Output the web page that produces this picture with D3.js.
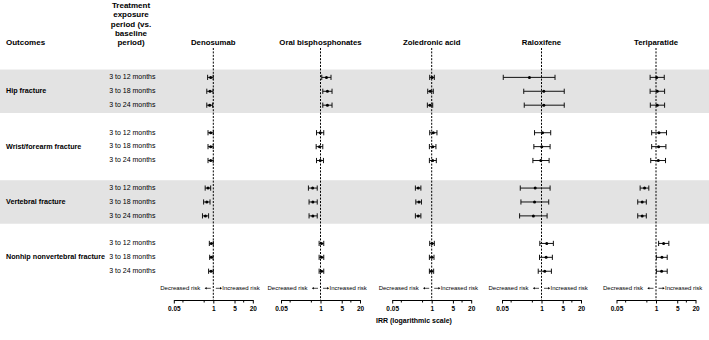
<!DOCTYPE html>
<html>
<head>
<meta charset="utf-8">
<script src="https://cdnjs.cloudflare.com/ajax/libs/d3/7.8.5/d3.min.js"></script>
<style>
body { margin:0; background:white; }
text { font-family: Arial, "Liberation Sans", sans-serif; fill:#000; }
</style>
</head>
<body>
<div id="canvas"></div>
<script>
var w = 709;
var h = 340;

// categories
var outcomes = ["Hip fracture", "Wrist/forearm fracture", "Vertebral fracture", "Nonhip nonvertebral fracture"];
var periods = ["3 to 12 months", "3 to 18 months", "3 to 24 months"];
var drugs = ["Denosumab", "Oral bisphosphonates", "Zoledronic acid", "Raloxifene", "Teriparatide"];
var tickLabels = [0.05, 1, 5, 20];
var minorTicks = [0.1, 0.5, 10];

// IRR, lower, upper (outcome x period order)
var denosumabIRR = [0.82, 0.78, 0.76, 0.82, 0.82, 0.82, 0.67, 0.61, 0.55, 0.86, 0.86, 0.84];
var denosumabLo  = [0.65, 0.61, 0.61, 0.67, 0.67, 0.67, 0.54, 0.48, 0.44, 0.74, 0.76, 0.70];
var denosumabHi  = [0.99, 0.98, 0.95, 1.00, 0.99, 0.99, 0.82, 0.78, 0.70, 1.00, 0.98, 1.00];

var oralIRR = [1.57, 1.69, 1.69, 0.98, 0.93, 0.98, 0.55, 0.56, 0.56, 1.08, 1.08, 1.08];
var oralLo  = [1.10, 1.19, 1.19, 0.74, 0.72, 0.74, 0.40, 0.42, 0.42, 0.90, 0.90, 0.90];
var oralHi  = [2.22, 2.40, 2.40, 1.28, 1.19, 1.25, 0.78, 0.78, 0.78, 1.28, 1.28, 1.28];

var zolIRR = [1.03, 0.90, 0.88, 1.13, 1.08, 1.08, 0.36, 0.38, 0.36, 1.03, 1.00, 0.98];
var zolLo  = [0.86, 0.74, 0.72, 0.86, 0.84, 0.84, 0.29, 0.30, 0.29, 0.86, 0.84, 0.84];
var zolHi  = [1.22, 1.13, 1.08, 1.49, 1.38, 1.42, 0.44, 0.46, 0.44, 1.22, 1.19, 1.16];

var raloIRR = [0.40, 1.19, 1.19, 1.08, 1.02, 0.95, 0.62, 0.59, 0.54, 1.49, 1.42, 1.28];
var raloLo  = [0.055, 0.26, 0.27, 0.59, 0.56, 0.52, 0.20, 0.21, 0.19, 0.88, 0.86, 0.78];
var raloHi  = [2.79, 5.61, 5.61, 2.01, 1.92, 1.78, 1.92, 1.73, 1.53, 2.46, 2.28, 2.12];

var teriIRR = [1.05, 1.10, 1.10, 1.25, 1.22, 1.19, 0.42, 0.35, 0.35, 1.78, 1.57, 1.53];
var teriLo  = [0.64, 0.64, 0.65, 0.72, 0.72, 0.67, 0.30, 0.25, 0.25, 1.22, 1.03, 1.03];
var teriHi  = [1.87, 1.92, 1.92, 2.22, 2.12, 2.06, 0.58, 0.48, 0.48, 2.65, 2.34, 2.34];

var series = [
	{irr: denosumabIRR, lo: denosumabLo, hi: denosumabHi},
	{irr: oralIRR, lo: oralLo, hi: oralHi},
	{irr: zolIRR, lo: zolLo, hi: zolHi},
	{irr: raloIRR, lo: raloLo, hi: raloHi},
	{irr: teriIRR, lo: teriLo, hi: teriHi}
];

// layout
var panelCenter = [213.3, 320.5, 431.7, 541.5, 656];
var halfW = 39.5;
var axisY = 300;
var lineTop = 48;

var svg = d3.select("#canvas").append("svg")
	.attr("width", w)
	.attr("height", h)
	.style("background-color", "white");

var groupScale = d3.scaleBand()
	.domain(outcomes)
	.range([63.6, 285]);
var rowScale = d3.scalePoint()
	.domain(periods)
	.range([-13.9, 13.9]);
function rowY(g, p) {
	return groupScale(g) + groupScale.bandwidth()/2 + rowScale(p);
}

// grey bands
var bandH = 43.5;
svg.selectAll(".band")
	.data(outcomes.filter(function(d,i){ return i % 2 == 0; }))
	.join("rect")
	.attr("class", "band")
	.attr("x", 0)
	.attr("width", w)
	.attr("y", function(d){ return groupScale(d) + groupScale.bandwidth()/2 - bandH/2; })
	.attr("height", bandH)
	.attr("fill", "#e3e3e3");

// headers
svg.append("text")
	.attr("x", 6).attr("y", 43)
	.attr("dominant-baseline", "middle")
	.style("font-size", "8px").style("font-weight", "bold")
	.text("Outcomes");

var headLines = ["Treatment", "exposure", "period (vs.", "baseline", "period)"];
svg.selectAll(".head")
	.data(headLines)
	.join("text")
	.attr("class", "head")
	.attr("x", 131)
	.attr("y", function(d,i){ return 6 + i*9.2; })
	.attr("text-anchor", "middle")
	.attr("dominant-baseline", "middle")
	.style("font-size", "8px").style("font-weight", "bold")
	.text(function(d){ return d; });

// outcome labels
svg.selectAll(".outcome")
	.data(outcomes)
	.join("text")
	.attr("class", "outcome")
	.attr("x", 6)
	.attr("y", function(d){ return groupScale(d) + groupScale.bandwidth()/2; })
	.attr("dominant-baseline", "middle")
	.style("font-size", "7.2px").style("font-weight", "bold")
	.text(function(d){ return d; });

// period labels
var rows = [];
outcomes.forEach(function(g){
	periods.forEach(function(p){ rows.push({g: g, p: p}); });
});
svg.selectAll(".period")
	.data(rows)
	.join("text")
	.attr("class", "period")
	.attr("x", 155.5)
	.attr("y", function(d){ return rowY(d.g, d.p); })
	.attr("text-anchor", "end")
	.attr("dominant-baseline", "middle")
	.style("font-size", "7px")
	.text(function(d){ return d.p; });

// panels
drugs.forEach(function(drug, k){
	var c = panelCenter[k];
	var x = d3.scaleLog().domain([0.05, 20]).range([c - halfW, c + halfW]);
	var s = series[k];
	var g = svg.append("g");

	g.append("text")
		.attr("x", x(1)).attr("y", 43)
		.attr("text-anchor", "middle")
		.attr("dominant-baseline", "middle")
		.style("font-size", "7.8px").style("font-weight", "bold")
		.text(drug);

	g.append("line")
		.attr("x1", x(1)).attr("x2", x(1))
		.attr("y1", lineTop).attr("y2", axisY)
		.attr("stroke", "#000")
		.attr("stroke-width", 1)
		.attr("stroke-dasharray", "2,1.4");

	var d = rows.map(function(r, i){
		return {y: rowY(r.g, r.p), irr: s.irr[i], lo: s.lo[i], hi: s.hi[i]};
	});
	g.selectAll(".bar")
		.data(d)
		.join("line")
		.attr("x1", function(d){ return x(d.lo); })
		.attr("x2", function(d){ return x(d.hi); })
		.attr("y1", function(d){ return d.y; })
		.attr("y2", function(d){ return d.y; })
		.attr("stroke", "#111").attr("stroke-width", 1);
	["lo", "hi"].forEach(function(key){
		g.selectAll(".cap-" + key)
			.data(d)
			.join("line")
			.attr("x1", function(d){ return x(d[key]); })
			.attr("x2", function(d){ return x(d[key]); })
			.attr("y1", function(d){ return d.y - 2.6; })
			.attr("y2", function(d){ return d.y + 2.6; })
			.attr("stroke", "#111").attr("stroke-width", 1);
	});
	g.selectAll(".pt")
		.data(d)
		.join("circle")
		.attr("cx", function(d){ return x(d.irr); })
		.attr("cy", function(d){ return d.y; })
		.attr("r", 1.5)
		.attr("fill", "#000");

	// risk direction
	var ry = 288.3;
	g.append("text")
		.attr("x", x(1) - 13).attr("y", ry)
		.attr("text-anchor", "end").attr("dominant-baseline", "middle")
		.style("font-size", "6px")
		.text("Decreased risk");
	g.append("text")
		.attr("x", x(1) + 9).attr("y", ry)
		.attr("text-anchor", "start").attr("dominant-baseline", "middle")
		.style("font-size", "6px")
		.text("Increased risk");
	[-1, 1].forEach(function(dir){
		var x0 = x(1) + dir*2.5, x1 = x(1) + dir*7.5;
		g.append("line")
			.attr("x1", x0).attr("x2", x1)
			.attr("y1", ry).attr("y2", ry)
			.attr("stroke", "#000").attr("stroke-width", 0.7);
		g.append("path")
			.attr("d", "M" + (x1 + dir*1.2) + "," + ry + "L" + (x1 - dir*0.8) + "," + (ry - 1.2) + "L" + (x1 - dir*0.8) + "," + (ry + 1.2) + "Z")
			.attr("fill", "#000");
	});

	// axis
	var axis = d3.axisBottom(x)
		.tickValues(tickLabels)
		.tickFormat(function(v){ return v; })
		.tickSize(3.5)
		.tickSizeOuter(0);
	var ag = g.append("g")
		.attr("transform", "translate(0," + axisY + ")")
		.call(axis);
	ag.select(".domain").attr("stroke-width", 1);
	ag.selectAll(".tick line").attr("stroke-width", 1);
	ag.selectAll(".tick text")
		.attr("y", 6)
		.style("font-family", "Arial, 'Liberation Sans', sans-serif")
		.style("font-size", "6.5px").style("font-weight", "bold");
	ag.selectAll(".minor")
		.data(minorTicks)
		.join("line")
		.attr("class", "minor")
		.attr("x1", function(v){ return x(v); })
		.attr("x2", function(v){ return x(v); })
		.attr("y1", 0).attr("y2", 2.5)
		.attr("stroke", "#000").attr("stroke-width", 1);
});

svg.append("text")
	.attr("x", 376).attr("y", 321.5)
	.attr("dominant-baseline", "middle")
	.style("font-size", "7px").style("font-weight", "bold")
	.text("IRR (logarithmic scale)");
</script>
</body>
</html>
